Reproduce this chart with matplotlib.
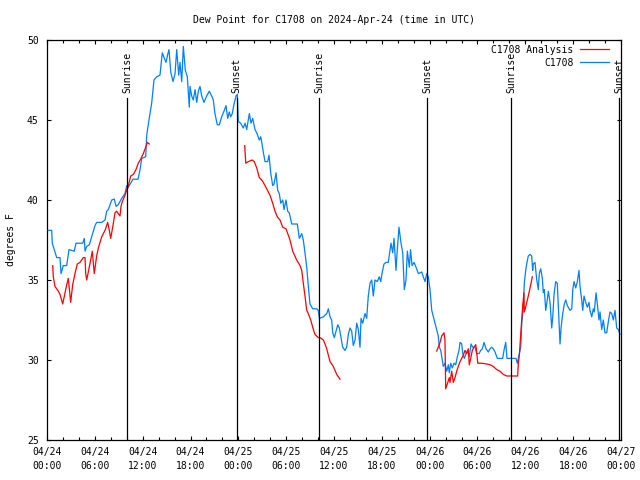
import numpy as np
import matplotlib
matplotlib.use("Agg")
import matplotlib.pyplot as plt
from matplotlib.ticker import MultipleLocator

# ---- data (hours since 04/24 00:00 UTC, dew point in F) ----
obs_hours = [0.16, 0.59, 0.66, 1.22, 1.63, 1.76, 2.04, 2.47, 2.76, 3.42, 3.64, 4.48, 4.68, 4.77, 4.98,
             5.31, 5.61, 6.02, 6.23, 6.86, 7.28, 7.49, 7.69, 8.12, 8.44, 8.66, 8.94, 9.37, 9.78, 10.00,
             10.07, 10.79, 11.42, 11.67, 11.88, 12.38, 12.51, 12.79, 13.13, 13.42, 13.76, 14.17, 14.46,
             14.68, 14.93, 15.14, 15.30, 15.52, 15.81, 16.06, 16.27, 16.52, 16.68, 16.90, 17.10, 17.35,
             17.60, 17.85, 17.94, 18.15, 18.35, 18.57, 18.78, 18.98, 19.19, 19.41, 19.69, 20.03, 20.36,
             20.66, 20.86, 21.07, 21.36, 21.61, 21.91, 22.24, 22.45, 22.67, 22.87, 23.04, 23.24, 23.46,
             23.71, 23.87, 24.00, 24.30, 24.62, 24.84, 25.05, 25.25, 25.38, 25.59, 25.80, 26.09, 26.31,
             26.63, 26.81, 26.97, 27.13, 27.35, 27.68, 27.85, 28.06, 28.31, 28.48, 28.73, 28.94, 29.14,
             29.32, 29.57, 29.73, 29.98, 30.19, 30.39, 30.70, 31.40, 31.65, 31.95, 32.15, 32.36, 32.58,
             32.78, 32.99, 33.33, 33.83, 34.03, 34.16, 34.66, 35.09, 35.29, 35.50, 35.71, 35.84, 36.04,
             36.25, 36.47, 36.67, 36.88, 37.09, 37.38, 37.59, 37.80, 38.01, 38.22, 38.42, 38.64, 38.85,
             39.05, 39.26, 39.39, 39.60, 39.89, 40.10, 40.30, 40.52, 40.73, 40.93, 41.14, 41.43, 41.68,
             41.86, 42.06, 42.27, 42.52, 42.81, 43.03, 43.15, 43.36, 43.53, 43.78, 43.94, 44.15, 44.41,
             44.62, 44.82, 45.03, 45.20, 45.45, 45.60, 45.79, 46.04, 46.29, 46.58, 47.00, 47.20, 47.42,
             47.63, 47.83, 48.04, 48.26, 48.46, 48.67, 48.88, 49.08, 49.21, 49.39, 49.59, 49.71, 49.92,
             50.14, 50.34, 50.46, 50.64, 50.84, 51.05, 51.27, 51.47, 51.68, 51.81, 52.02, 52.15, 52.35,
             52.56, 52.77, 52.97, 53.19, 53.40, 53.69, 53.90, 54.19, 54.40, 54.61, 54.82, 55.07, 55.36,
             55.57, 55.78, 55.98, 56.20, 56.49, 57.16, 57.36, 57.54, 57.70, 58.29, 58.83, 58.99, 59.25,
             59.42, 59.55, 59.75, 59.87, 60.05, 60.17, 60.37, 60.59, 60.80, 60.92, 61.00, 61.21, 61.43,
             61.63, 61.75, 61.93, 62.13, 62.26, 62.38, 62.56, 62.68, 62.89, 63.10, 63.31, 63.44, 63.60,
             63.81, 64.01, 64.14, 64.26, 64.35, 64.48, 64.69, 64.89, 65.07, 65.27, 65.61, 65.82, 65.95,
             66.11, 66.32, 66.52, 66.73, 66.86, 67.07, 67.20, 67.36, 67.57, 67.78, 67.99, 68.11, 68.33,
             68.53, 68.65, 68.87, 69.03, 69.24, 69.37, 69.58, 69.78, 69.99, 70.21, 70.41, 70.62, 70.84,
             71.04, 71.25, 71.46, 71.67, 71.88]
obs_vals = [38.1, 38.1, 37.3, 36.4, 36.4, 35.4, 35.9, 35.9, 36.9, 36.8, 37.3, 37.3, 37.6, 36.8, 37.1,
            37.2, 37.7, 38.4, 38.6, 38.6, 38.75, 39.3, 39.4, 40.0, 40.06, 39.6, 39.7, 40.1, 40.4, 40.9,
            40.7, 41.3, 41.3, 41.9, 42.6, 42.7, 44.06, 45.0, 46.05, 47.5, 47.7, 47.8, 49.2,
            48.9, 48.6, 49.1, 49.4, 48.0, 47.4, 47.9, 49.4, 47.8, 48.6, 47.4, 49.6, 48.1,
            47.7, 45.8, 47.1, 46.5, 46.25, 46.9, 46.1, 46.8, 47.1, 46.5, 46.1, 46.5, 46.8,
            46.5, 46.25, 45.4, 44.7, 44.7, 45.2, 45.6, 45.9, 45.1, 45.5, 45.2, 45.4, 46.0,
            46.5, 46.6, 44.9, 44.8, 44.5, 44.8, 44.4, 45.0, 45.4, 44.8, 45.1, 44.4, 44.2,
            43.75, 43.95, 43.5, 43.0, 42.4, 42.4, 42.8, 41.7, 40.9, 41.0, 41.7, 40.6, 40.4,
            39.8, 40.0, 39.4, 40.0, 39.3, 39.2, 38.5, 38.5, 37.6, 37.9, 37.5, 36.7, 35.8,
            34.6, 33.5, 33.2, 33.2, 33.1, 32.6, 32.7, 32.9, 33.2, 32.7, 32.5, 31.7, 31.4,
            31.8, 32.2, 32.0, 31.4, 30.8, 30.6, 30.8, 31.6, 32.0, 31.8, 30.9, 31.25, 32.3,
            31.9, 30.8, 32.6, 32.3, 32.9, 32.6, 34.0, 34.8, 35.0, 34.0, 35.0, 34.9, 35.2,
            34.9, 35.5, 36.0, 36.1, 36.1, 36.9, 37.3, 36.7, 37.6, 35.6, 36.9, 38.3, 37.3,
            36.7, 34.4, 35.0, 36.8, 35.8, 36.9, 35.9, 36.1, 35.8, 35.4, 35.5, 35.2, 34.9,
            35.4, 35.2, 34.4, 33.1, 32.7, 32.3, 31.9, 31.5, 30.8, 30.6, 30.0, 29.6, 29.8,
            29.3, 29.7, 29.2, 29.8, 29.5, 29.8, 29.7, 30.2, 30.6, 31.1, 31.0, 30.4, 30.1,
            30.4, 30.6, 30.2, 31.0, 30.8, 30.8, 30.4, 30.4, 30.6, 30.7, 31.1, 30.7, 30.5,
            30.7, 30.8, 30.7, 30.5, 30.1, 30.1, 30.7, 31.1, 30.1, 30.1, 30.1, 29.8, 30.4,
            30.8, 32.3, 33.3, 34.8, 35.6, 36.0, 36.5, 36.6, 36.5, 35.6, 36.0, 36.1, 35.0,
            34.4, 35.4, 35.7, 35.1, 34.2, 34.4, 33.1, 33.5, 34.3, 33.6, 32.0, 32.7, 34.1,
            34.9, 34.8, 33.3, 32.0, 31.0, 32.0, 32.9, 33.5, 33.75, 33.4, 33.1, 33.2, 34.4,
            34.9, 34.5, 34.9, 35.6, 34.6, 33.75, 33.1, 34.0, 33.6, 33.3, 33.6, 33.1, 32.7,
            33.2, 33.0, 34.2, 33.5, 32.5, 33.0, 31.9, 32.5, 31.7, 31.7, 32.4, 33.0, 32.9,
            32.5, 33.1, 32.0, 31.9, 31.6]

ana_hours_1 = [0.72, 0.79, 1.00, 1.42, 1.63, 1.97, 2.47, 2.67, 2.97, 3.22, 3.51, 3.80, 4.14, 4.55,
               4.77, 4.85, 4.98, 5.18, 5.48, 5.68, 5.93, 6.23, 6.44, 6.86, 7.28, 7.61, 7.78, 7.99,
               8.24, 8.53, 8.74, 8.87, 9.16, 9.28, 9.45, 9.78, 10.00, 10.20, 10.50, 10.83, 11.16,
               11.45, 11.75, 12.08, 12.38, 12.58, 12.83]
ana_vals_1 = [35.9, 35.2, 34.6, 34.3, 34.1, 33.5, 34.7, 35.1, 33.6, 34.7, 35.4, 36.0, 36.1, 36.4,
              36.4, 35.4, 35.0, 35.5, 36.25, 36.8, 35.4, 36.5, 37.0, 37.7, 38.1, 38.6, 38.2, 37.6,
              38.3, 39.2, 39.3, 39.2, 39.0, 39.6, 39.9, 40.3, 40.6, 40.9, 41.5, 41.6, 41.9,
              42.3, 42.55, 42.9, 43.3, 43.6, 43.5]
ana_hours_2 = [24.80, 24.93, 25.25, 25.75, 26.00, 26.31, 26.63, 26.93, 27.13, 27.56, 27.97, 28.31,
               28.60, 28.89, 29.23, 29.57, 29.98, 30.27, 30.48, 30.82, 31.32, 31.74, 31.95, 32.15,
               32.36, 32.58, 32.78, 33.08, 33.41, 33.62, 34.03, 34.25, 34.66, 34.87, 35.09, 35.29,
               35.50, 35.91, 36.34, 36.75]
ana_vals_2 = [43.4, 42.3, 42.4, 42.5, 42.4, 42.0, 41.4, 41.25, 41.1, 40.7, 40.3, 39.8,
              39.3, 38.95, 38.75, 38.3, 38.2, 37.8, 37.5, 36.8, 36.25, 35.9, 35.6, 34.8,
              34.0, 33.1, 32.9, 32.5, 31.9, 31.6, 31.4, 31.4, 31.25, 31.0, 30.7, 30.3,
              29.9, 29.6, 29.1, 28.8]
ana_hours_3 = [48.88, 49.08, 49.30, 49.51, 49.80, 49.92, 50.01, 50.21, 50.46, 50.55, 50.76, 50.97,
               51.18, 51.39, 51.59, 51.81, 52.02, 52.22, 52.43, 52.65, 52.85, 52.97, 53.15, 53.35,
               53.56, 53.78, 53.90, 54.03, 54.53, 55.16, 55.57, 55.98, 56.41, 56.82, 57.24, 57.66,
               58.08, 58.83, 59.04, 59.12, 59.25, 59.42, 59.67, 59.83, 59.87, 60.09, 60.37, 60.59,
               60.88]
ana_vals_3 = [30.56, 30.8, 31.1, 31.5, 31.7, 31.25, 28.2, 28.5, 28.9, 28.6, 29.3, 28.6,
              28.9, 29.3, 29.6, 29.9, 30.1, 30.3, 30.6, 30.4, 30.7, 29.7, 30.1, 30.6,
              30.8, 30.96, 30.5, 29.8, 29.8, 29.75, 29.7, 29.6, 29.4, 29.3, 29.1, 29.0,
              29.0, 29.0, 29.0, 29.8, 30.3, 31.6, 33.4, 34.2, 33.0, 33.4, 34.0, 34.5,
              35.2]

sun_hours = [10.07, 23.79, 34.14, 47.71, 58.22, 71.80]
sun_labels = ["Sunrise", "Sunset", "Sunrise", "Sunset", "Sunrise", "Sunset"]

tick_hours = [0, 6, 12, 18, 24, 30, 36, 42, 48, 54, 60, 66, 72]
tick_labels = ["04/24\n00:00", "04/24\n06:00", "04/24\n12:00", "04/24\n18:00",
               "04/25\n00:00", "04/25\n06:00", "04/25\n12:00", "04/25\n18:00",
               "04/26\n00:00", "04/26\n06:00", "04/26\n12:00", "04/26\n18:00",
               "04/27\n00:00"]

# ---- figure ----
plt.rcParams["font.family"] = ["DejaVu Sans Mono"]
plt.rcParams["font.size"] = 7

fig = plt.figure(figsize=(6.4, 4.8), dpi=100)
ax = fig.add_axes([47 / 640, 40 / 480, (621 - 47) / 640, 400 / 480])

RED = "#ff0000"
BLUE = "#0080ff"
LW = 0.9

ax.plot(obs_hours, obs_vals, color=BLUE, lw=LW, label="C1708", zorder=3)
ana_line = None
for hh, vv in [(ana_hours_1, ana_vals_1), (ana_hours_2, ana_vals_2), (ana_hours_3, ana_vals_3)]:
    l, = ax.plot(hh, vv, color=RED, lw=LW, zorder=4)
    if ana_line is None:
        ana_line = l
ana_line.set_label("C1708 Analysis")

ax.set_xlim(0, 72)
ax.set_ylim(25, 50)

for h, lab in zip(sun_hours, sun_labels):
    ax.plot([h, h], [25, 46.38], color="black", lw=0.9, zorder=5)
    ax.text(h, 46.7, lab, rotation=90, ha="center", va="bottom", fontsize=7, zorder=6)

ax.set_xticks(tick_hours)
ax.set_xticklabels(tick_labels)
for t in ax.get_xticklabels():
    t.set_linespacing(1.55)
ax.xaxis.set_minor_locator(MultipleLocator(2))
ax.set_yticks([25, 30, 35, 40, 45, 50])
ax.tick_params(which="both", direction="in", top=True, right=True, width=0.8)
ax.tick_params(which="major", length=3, labelsize=7)
ax.tick_params(which="minor", length=2.5)
ax.tick_params(axis="x", pad=5)
ax.tick_params(axis="y", pad=6)
for sp in ax.spines.values():
    sp.set_linewidth(0.9)

ax.set_title("Dew Point for C1708 on 2024-Apr-24 (time in UTC)", fontsize=7, pad=12)
fig.text(11 / 640, 1 - 240 / 480, "degrees F", rotation=90, ha="center", va="center", fontsize=7)

handles, labels = ax.get_legend_handles_labels()
order = [labels.index("C1708 Analysis"), labels.index("C1708")]
ax.legend([handles[i] for i in order], [labels[i] for i in order],
          loc="upper right", bbox_to_anchor=(1.0 - 2 / 574, 1.0 + 5 / 400), frameon=False,
          markerfirst=False, handlelength=3.0, handletextpad=0.7,
          labelspacing=0.3, borderaxespad=0.6, fontsize=7)

fig.savefig("out.png", dpi=100)
